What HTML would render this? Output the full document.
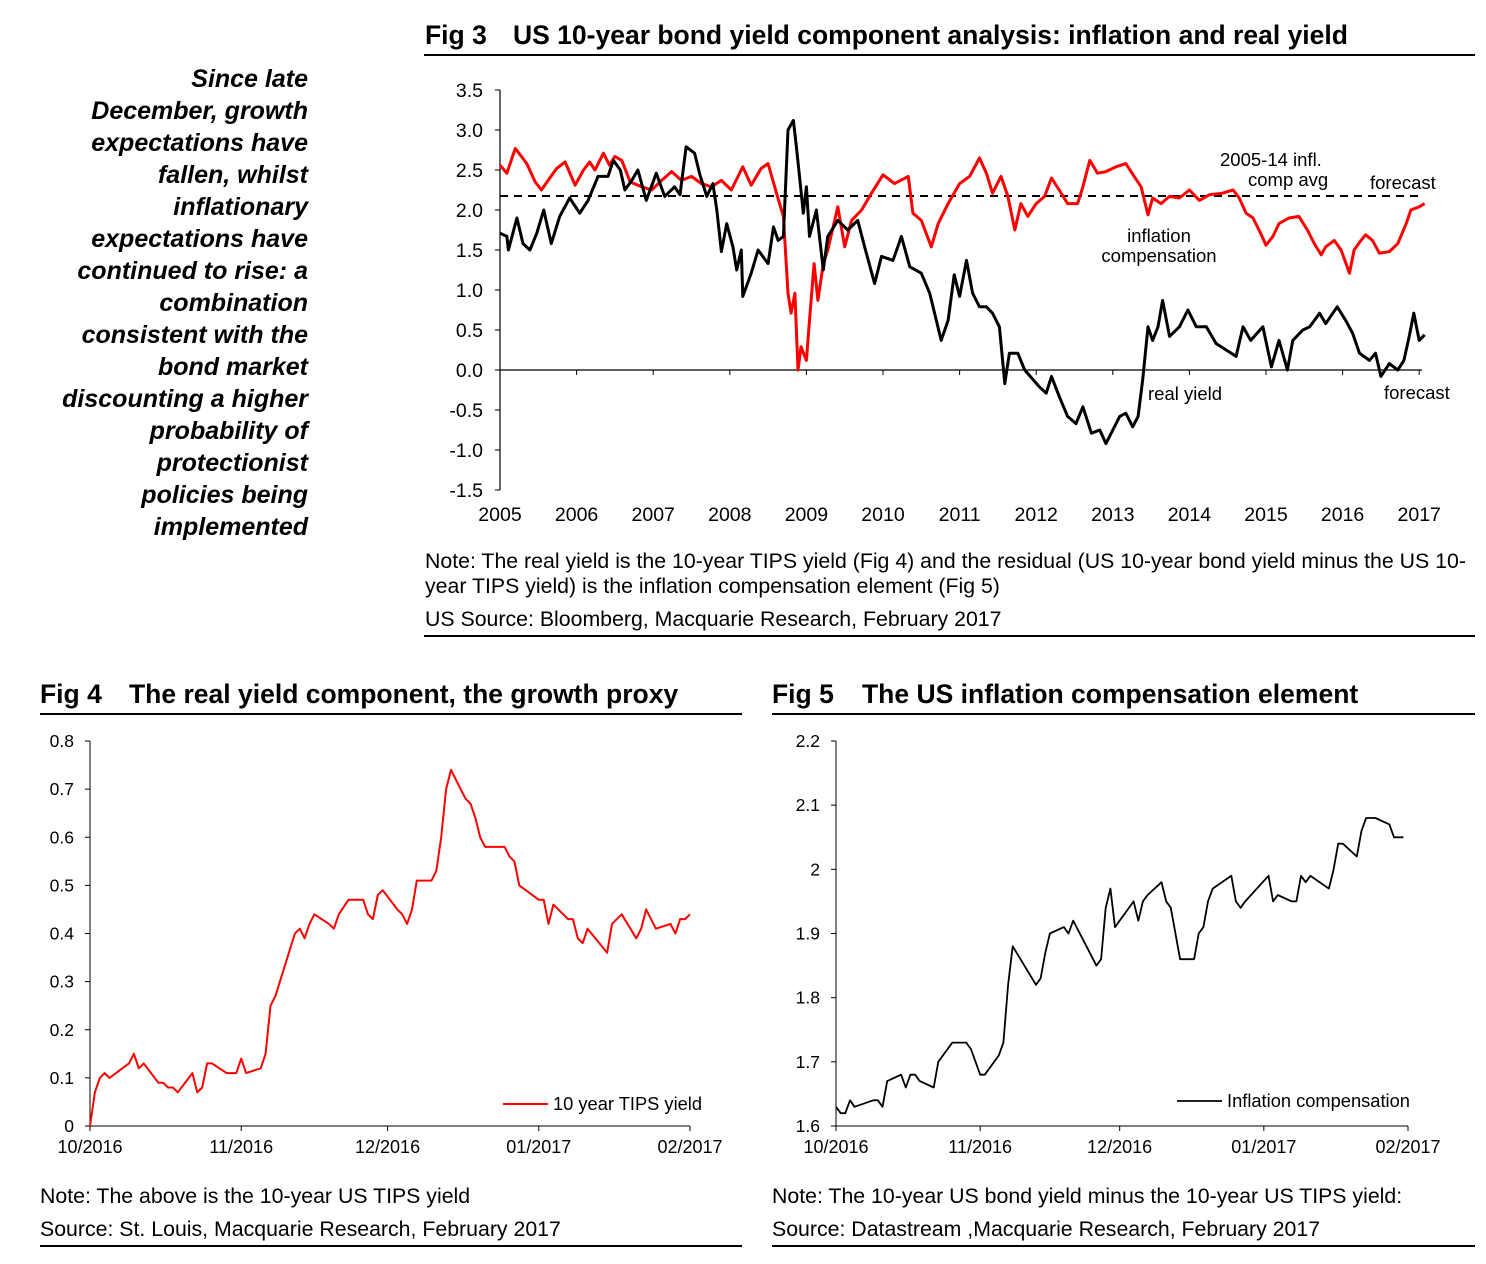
<!DOCTYPE html>
<html><head><meta charset="utf-8"><style>
html,body{margin:0;padding:0;background:#fff}
svg{display:block;font-family:"Liberation Sans",Arial,sans-serif}
</style></head><body>
<svg id="page" width="1486" height="1264" viewBox="0 0 1486 1264">
<g font-weight="bold" font-style="italic" font-size="25" text-anchor="end" fill="#000">
<text x="308" y="87">Since late</text><text x="308" y="119">December, growth</text><text x="308" y="151">expectations have</text><text x="308" y="183">fallen, whilst</text><text x="308" y="215">inflationary</text><text x="308" y="247">expectations have</text><text x="308" y="279">continued to rise: a</text><text x="308" y="311">combination</text><text x="308" y="343">consistent with the</text><text x="308" y="375">bond market</text><text x="308" y="407">discounting a higher</text><text x="308" y="439">probability of</text><text x="308" y="471">protectionist</text><text x="308" y="503">policies being</text><text x="308" y="535">implemented</text>
</g>
<g font-weight="bold" font-size="26.5"><text x="425" y="44">Fig 3</text><text x="513" y="44">US 10-year bond yield component analysis: inflation and real yield</text></g>
<line x1="424" y1="55" x2="1475" y2="55" stroke="#000" stroke-width="2"/>
<g id="fig3"></g>
<g font-size="21.3"><text x="425" y="568">Note: The real yield is the 10-year TIPS yield (Fig 4) and the residual (US 10-year bond yield minus the US 10-</text><text x="425" y="593">year TIPS yield) is the inflation compensation element (Fig 5)</text><text x="425" y="626">US Source: Bloomberg, Macquarie Research, February 2017</text></g>
<line x1="424" y1="636" x2="1475" y2="636" stroke="#000" stroke-width="2"/>

<g font-weight="bold" font-size="26.5"><text x="40" y="703">Fig 4</text><text x="129" y="703">The real yield component, the growth proxy</text></g>
<line x1="40" y1="714" x2="742" y2="714" stroke="#000" stroke-width="2"/>
<g id="fig4"></g>
<g font-size="21.3"><text x="40" y="1203">Note: The above is the 10-year US TIPS yield</text><text x="40" y="1236">Source: St. Louis, Macquarie Research, February 2017</text></g>
<line x1="40" y1="1246" x2="742" y2="1246" stroke="#000" stroke-width="2"/>

<g font-weight="bold" font-size="26.5"><text x="772" y="703">Fig 5</text><text x="862" y="703">The US inflation compensation element</text></g>
<line x1="772" y1="714" x2="1475" y2="714" stroke="#000" stroke-width="2"/>
<g id="fig5"></g>
<g font-size="21.3"><text x="772" y="1203">Note: The 10-year US bond yield minus the 10-year US TIPS yield:</text><text x="772" y="1236">Source: Datastream ,Macquarie Research, February 2017</text></g>
<line x1="772" y1="1246" x2="1475" y2="1246" stroke="#000" stroke-width="2"/>
</svg>
<script>
// ---------- Fig 3 data ----------
const f3Years = ["2005","2006","2007","2008","2009","2010","2011","2012","2013","2014","2015","2016","2017"];
const f3YTicks = [3.5,3.0,2.5,2.0,1.5,1.0,0.5,0.0,-0.5,-1.0,-1.5];
const f3InflAvg = 2.175;
const inflT = [2005.0,2005.09,2005.2,2005.35,2005.46,2005.54,2005.65,2005.74,2005.85,2005.98,2006.09,2006.17,2006.24,2006.35,2006.43,2006.5,2006.59,2006.7,2006.85,2006.98,2007.11,2007.24,2007.37,2007.5,2007.63,2007.76,2007.89,2008.02,2008.17,2008.28,2008.41,2008.5,2008.61,2008.7,2008.76,2008.8,2008.85,2008.89,2008.93,2009.0,2009.04,2009.1,2009.15,2009.22,2009.28,2009.41,2009.5,2009.59,2009.72,2009.85,2010.0,2010.15,2010.33,2010.39,2010.5,2010.63,2010.72,2010.85,2011.0,2011.13,2011.26,2011.35,2011.43,2011.54,2011.63,2011.72,2011.8,2011.89,2012.0,2012.11,2012.2,2012.3,2012.41,2012.54,2012.61,2012.7,2012.8,2012.91,2013.04,2013.17,2013.28,2013.37,2013.46,2013.52,2013.63,2013.74,2013.87,2014.0,2014.13,2014.26,2014.43,2014.57,2014.65,2014.74,2014.83,2014.93,2015.0,2015.09,2015.17,2015.3,2015.43,2015.54,2015.63,2015.72,2015.78,2015.89,2015.98,2016.09,2016.15,2016.24,2016.3,2016.39,2016.48,2016.61,2016.72,2016.83,2016.89,2017.0,2017.07];
const inflV = [2.56,2.46,2.77,2.58,2.35,2.25,2.40,2.52,2.60,2.31,2.5,2.6,2.5,2.71,2.56,2.67,2.62,2.35,2.29,2.25,2.37,2.48,2.37,2.42,2.33,2.29,2.37,2.25,2.54,2.31,2.52,2.58,2.21,1.92,0.96,0.71,0.96,0.0,0.29,0.12,0.62,1.33,0.87,1.33,1.5,2.04,1.54,1.87,2.0,2.21,2.44,2.33,2.42,1.96,1.87,1.54,1.83,2.08,2.33,2.42,2.65,2.46,2.21,2.42,2.17,1.75,2.08,1.92,2.08,2.17,2.4,2.25,2.08,2.08,2.29,2.62,2.46,2.48,2.54,2.58,2.42,2.29,1.94,2.15,2.08,2.17,2.15,2.25,2.12,2.19,2.21,2.25,2.15,1.96,1.9,1.71,1.56,1.67,1.83,1.9,1.92,1.75,1.58,1.44,1.54,1.62,1.5,1.21,1.5,1.62,1.69,1.62,1.46,1.48,1.58,1.83,2.0,2.04,2.08];
const realT = [2005.0,2005.09,2005.11,2005.22,2005.3,2005.39,2005.48,2005.57,2005.67,2005.78,2005.91,2006.04,2006.15,2006.28,2006.41,2006.48,2006.57,2006.63,2006.72,2006.8,2006.91,2007.04,2007.15,2007.28,2007.35,2007.43,2007.54,2007.61,2007.7,2007.78,2007.83,2007.89,2007.96,2008.04,2008.09,2008.15,2008.17,2008.28,2008.37,2008.5,2008.57,2008.63,2008.7,2008.76,2008.83,2008.87,2008.91,2008.96,2009.0,2009.04,2009.13,2009.22,2009.28,2009.41,2009.54,2009.67,2009.76,2009.89,2009.98,2010.13,2010.24,2010.35,2010.5,2010.61,2010.76,2010.85,2010.93,2011.0,2011.09,2011.17,2011.26,2011.35,2011.43,2011.52,2011.59,2011.65,2011.76,2011.85,2011.96,2012.04,2012.13,2012.2,2012.3,2012.41,2012.52,2012.61,2012.72,2012.83,2012.91,2013.0,2013.09,2013.17,2013.26,2013.33,2013.39,2013.46,2013.52,2013.59,2013.65,2013.74,2013.87,2013.98,2014.09,2014.22,2014.35,2014.48,2014.61,2014.7,2014.8,2014.96,2015.07,2015.17,2015.28,2015.35,2015.48,2015.57,2015.7,2015.78,2015.93,2016.04,2016.13,2016.22,2016.35,2016.43,2016.5,2016.61,2016.72,2016.8,2016.87,2016.93,2017.0,2017.07];
const realV = [1.71,1.67,1.5,1.9,1.58,1.5,1.71,2.0,1.58,1.92,2.15,1.96,2.12,2.42,2.42,2.62,2.5,2.25,2.37,2.5,2.12,2.46,2.17,2.29,2.19,2.79,2.71,2.44,2.17,2.33,2.0,1.48,1.83,1.54,1.25,1.5,0.92,1.21,1.5,1.33,1.79,1.62,1.67,3.0,3.12,2.79,2.42,1.96,2.29,1.67,2.0,1.25,1.67,1.87,1.75,1.87,1.54,1.08,1.42,1.37,1.67,1.29,1.21,0.96,0.37,0.62,1.19,0.92,1.37,0.96,0.79,0.79,0.71,0.54,-0.17,0.21,0.21,0.0,-0.12,-0.21,-0.29,-0.08,-0.33,-0.58,-0.67,-0.46,-0.79,-0.75,-0.92,-0.75,-0.58,-0.54,-0.71,-0.58,-0.12,0.54,0.37,0.54,0.87,0.42,0.54,0.75,0.54,0.54,0.33,0.25,0.17,0.54,0.37,0.54,0.04,0.37,0.0,0.37,0.5,0.54,0.71,0.58,0.79,0.62,0.46,0.21,0.12,0.21,-0.08,0.08,0.0,0.12,0.42,0.71,0.37,0.44];

// ---------- Fig 4 data (day index from 1 Oct 2016) ----------
const f4XLabels = ["10/2016","11/2016","12/2016","01/2017","02/2017"];
const f4XLabelDays = [0,31,61,92,123];
const f4YTicks = [0,0.1,0.2,0.3,0.4,0.5,0.6,0.7,0.8];
const tipsDay = [0,1,2,3,4,8,9,10,11,14,15,16,17,18,21,22,23,24,25,28,30,31,32,35,36,37,38,42,43,44,45,46,49,50,51,53,56,57,58,59,60,63,64,65,66,67,70,71,72,73,74,77,78,79,80,81,85,86,87,88,92,93,94,95,98,99,100,101,102,106,107,109,112,113,114,116,119,120,121,122,123];
const tipsVal = [0.0,0.07,0.10,0.11,0.10,0.13,0.15,0.12,0.13,0.09,0.09,0.08,0.08,0.07,0.11,0.07,0.08,0.13,0.13,0.11,0.11,0.14,0.11,0.12,0.15,0.25,0.27,0.40,0.41,0.39,0.42,0.44,0.42,0.41,0.44,0.47,0.47,0.44,0.43,0.48,0.49,0.45,0.44,0.42,0.45,0.51,0.51,0.53,0.60,0.70,0.74,0.68,0.67,0.64,0.60,0.58,0.58,0.56,0.55,0.50,0.47,0.47,0.42,0.46,0.43,0.43,0.39,0.38,0.41,0.36,0.42,0.44,0.39,0.41,0.45,0.41,0.42,0.40,0.43,0.43,0.44];

// ---------- Fig 5 data ----------
const f5XLabels = ["10/2016","11/2016","12/2016","01/2017","02/2017"];
const f5XLabelDays = [0,31,61,92,123];
const f5YTicks = [1.6,1.7,1.8,1.9,2.0,2.1,2.2];
const f5YTickText = ["1.6","1.7","1.8","1.9","2","2.1","2.2"];
const icDay = [0,1,2,3,4,8,9,10,11,14,15,16,17,18,21,22,25,28,29,31,32,35,36,37,38,43,44,45,46,49,50,51,56,57,58,59,60,64,65,66,67,70,71,72,74,77,78,79,80,81,85,86,87,88,93,94,95,98,99,100,101,102,106,107,108,109,112,113,114,116,119,120,122];
const icVal = [1.63,1.62,1.62,1.64,1.63,1.64,1.64,1.63,1.67,1.68,1.66,1.68,1.68,1.67,1.66,1.70,1.73,1.73,1.72,1.68,1.68,1.71,1.73,1.82,1.88,1.82,1.83,1.87,1.90,1.91,1.90,1.92,1.85,1.86,1.94,1.97,1.91,1.95,1.92,1.95,1.96,1.98,1.95,1.94,1.86,1.86,1.90,1.91,1.95,1.97,1.99,1.95,1.94,1.95,1.99,1.95,1.96,1.95,1.95,1.99,1.98,1.99,1.97,2.0,2.04,2.04,2.02,2.06,2.08,2.08,2.07,2.05,2.05];

const NS="http://www.w3.org/2000/svg";
function mk(parent,tag,attrs){const e=document.createElementNS(NS,tag);for(const k in attrs)e.setAttribute(k,attrs[k]);parent.appendChild(e);return e;}
function txt(parent,x,y,s,size,anchor){const t=mk(parent,'text',{x:x,y:y,'font-size':size,'text-anchor':anchor||'start'});t.textContent=s;return t;}

// ---------- Fig 3 ----------
(function(){
const g=document.getElementById('fig3');
const x=t=>500+(t-2005)*76.6;
const y=v=>370-v*80;
let ax=mk(g,'line',{x1:500,y1:90,x2:500,y2:490,stroke:'#000','stroke-width':1.2});


f3YTicks.forEach(v=>{
  let tk=mk(g,'line',{x1:495,y1:y(v),x2:500,y2:y(v),stroke:'#000','stroke-width':1});
  
  
  let l=txt(g,483,y(v)+7,v.toFixed(1),19.5,'end');
  
  
});
let zl=mk(g,'line',{x1:500,y1:y(0),x2:1422,y2:y(0),stroke:'#000','stroke-width':1.2});


f3Years.forEach((s,i)=>{
  const xx=x(2005+i);
  let tk=mk(g,'line',{x1:xx,y1:y(0),x2:xx,y2:y(0)+5,stroke:'#000','stroke-width':1});
  
  
  let l=txt(g,xx,521,s,19.5,'middle');
  
  
});
let d=mk(g,'line',{x1:500,y1:y(f3InflAvg),x2:1422,y2:y(f3InflAvg),stroke:'#000','stroke-width':2,'stroke-dasharray':'8,6'});


let p1=mk(g,'polyline',{points:inflT.map((t,i)=>x(t).toFixed(1)+','+y(inflV[i]).toFixed(1)).join(' '),fill:'none',stroke:'#ff0000','stroke-width':3,'stroke-linejoin':'round'});


let p2=mk(g,'polyline',{points:realT.map((t,i)=>x(t).toFixed(1)+','+y(realV[i]).toFixed(1)).join(' '),fill:'none',stroke:'#000','stroke-width':3,'stroke-linejoin':'round'});


const ann=[["2005-14  infl.",1220,166,'start'],["comp avg",1248,186,'start'],["forecast",1370,189,'start'],["inflation",1159,242,'middle'],["compensation",1159,262,'middle'],["real yield",1148,400,'start'],["forecast",1384,399,'start']];
ann.forEach(a=>{
  let t=txt(g,a[1],a[2],a[0],18.5,a[3]);
  
  
});
})();

// ---------- small chart helper ----------
function smallChart(id,prefix,x0,x1,ymin,ymax,yTicks,yTickText,xLabels,xDays,days,vals,color,sw,legend,legX,legY){
  const g=document.getElementById(id);
  const yTop=741,yBot=1126;
  const x=dd=>x0+dd*(x1-x0)/123;
  const y=v=>yBot-(v-ymin)/(ymax-ymin)*(yBot-yTop);
  let ya=mk(g,'line',{x1:x0,y1:yTop,x2:x0,y2:yBot,stroke:'#000','stroke-width':1});
  
  
  yTicks.forEach((v,i)=>{
    let tk=mk(g,'line',{x1:x0-5,y1:y(v),x2:x0,y2:y(v),stroke:'#000','stroke-width':1});
    
    
    let l=txt(g,x0-16,y(v)+6,yTickText[i],17.5,'end');
    
    
  });
  let xa=mk(g,'line',{x1:x0,y1:yBot,x2:x1,y2:yBot,stroke:'#000','stroke-width':1});
  
  
  xLabels.forEach((s,i)=>{
    const xx=x(xDays[i]);
    let tk=mk(g,'line',{x1:xx,y1:yBot,x2:xx,y2:yBot+5,stroke:'#000','stroke-width':1});
    
    
    let l=txt(g,xx,1153,s,18,'middle');
    
    
  });
  let p=mk(g,'polyline',{points:days.map((dd,i)=>x(dd).toFixed(1)+','+y(vals[i]).toFixed(1)).join(' '),fill:'none',stroke:color,'stroke-width':sw,'stroke-linejoin':'round'});
  
  
  let lg=mk(g,'line',{x1:legX,y1:legY,x2:legX+45,y2:legY,stroke:color,'stroke-width':sw});
  
  
  let lt=txt(g,legX+50,legY+6,legend,18.3,'start');
  
  
}
smallChart('fig4','fig4',90,690,0,0.8,f4YTicks,f4YTicks.map(v=>String(+v.toFixed(1))),f4XLabels,f4XLabelDays,tipsDay,tipsVal,'#ff0000',2,'10 year TIPS yield',503,1104);
smallChart('fig5','fig5',836,1408,1.6,2.2,f5YTicks,f5YTickText,f5XLabels,f5XLabelDays,icDay,icVal,'#000',1.8,'Inflation compensation',1177,1101);
</script>
</body></html>
